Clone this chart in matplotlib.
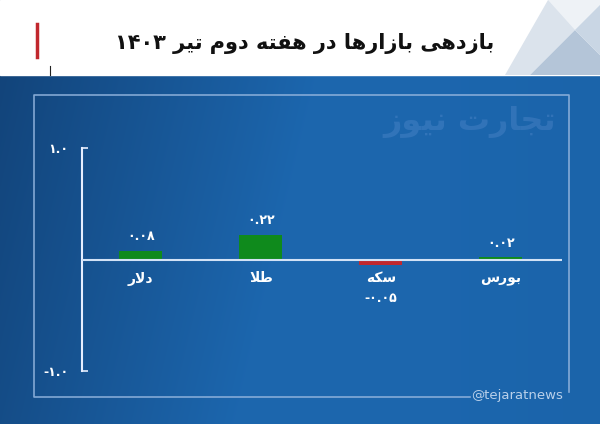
import matplotlib.pyplot as plt
import numpy as np
from matplotlib.patches import Polygon

title = "بازدهی بازارها در هفته دوم تیر ۱۴۰۳"
categories = ["دلار", "طلا", "سکه", "بورس"]
values = [0.08, 0.22, -0.05, 0.02]
yticks = [-1.0, 1.0]
watermark = "تجارت نیوز"
handle = "@tejaratnews"

# contextual forms: (isolated, final, initial, medial)
FORMS = {
    'ا': ('\uFE8D', '\uFE8E'),
    'ب': ('\uFE8F', '\uFE90', '\uFE91', '\uFE92'),
    'ت': ('\uFE95', '\uFE96', '\uFE97', '\uFE98'),
    'ج': ('\uFE9D', '\uFE9E', '\uFE9F', '\uFEA0'),
    'د': ('\uFEA9', '\uFEAA'),
    'ر': ('\uFEAD', '\uFEAE'),
    'ز': ('\uFEAF', '\uFEB0'),
    'س': ('\uFEB1', '\uFEB2', '\uFEB3', '\uFEB4'),
    'ط': ('\uFEC1', '\uFEC2', '\uFEC3', '\uFEC4'),
    'ف': ('\uFED1', '\uFED2', '\uFED3', '\uFED4'),
    'ل': ('\uFEDD', '\uFEDE', '\uFEDF', '\uFEE0'),
    'م': ('\uFEE1', '\uFEE2', '\uFEE3', '\uFEE4'),
    'ن': ('\uFEE5', '\uFEE6', '\uFEE7', '\uFEE8'),
    'ه': ('\uFEE9', '\uFEEA', '\uFEEB', '\uFEEC'),
    'و': ('\uFEED', '\uFEEE'),
    'ی': ('\uFBFC', '\uFBFD', '\uFBFE', '\uFBFF'),
    'ک': ('\uFB8E', '\uFB8F', '\uFB90', '\uFB91'),
    '\uFEFB': ('\uFEFB', '\uFEFC'),
}
DIGITS = '۰۱۲۳۴۵۶۷۸۹.-'


def dual(c):
    return c in FORMS and len(FORMS[c]) == 4


def shape(word):
    chars = list(word.replace('لا', '\uFEFB'))
    out = []
    for i, c in enumerate(chars):
        if c not in FORMS:
            out.append(c)
            continue
        prev = i > 0 and dual(chars[i - 1])
        nxt = i < len(chars) - 1 and chars[i + 1] in FORMS and dual(c)
        form = 3 if (prev and nxt) else 1 if prev else 2 if nxt else 0
        out.append(FORMS[c][form])
    return ''.join(out)


def rtl(s):
    words = []
    for w in reversed(s.split(' ')):
        if all(c in DIGITS for c in w):
            words.append(w)
        else:
            words.append(shape(w)[::-1])
    return ' '.join(words)


def fa_num(v, fmt):
    return format(v, fmt).translate(str.maketrans('0123456789', '۰۱۲۳۴۵۶۷۸۹'))


plt.rcParams['font.family'] = ['DejaVu Sans']

W, H = 600, 424
fig = plt.figure(figsize=(W / 100, H / 100), dpi=100)

# background
bg = fig.add_axes([0, 0, 1, 1])
bg.set_xlim(0, W)
bg.set_ylim(H, 0)
bg.axis('off')

u = np.linspace(0, 1, W)
v = np.linspace(0, 1, H)
U, V = np.meshgrid(u, v)
t = np.clip(U * 1.8 + V * 0.3, 0, 1)
dark = np.array([0.07, 0.26, 0.47])
mid = np.array([0.11, 0.40, 0.68])
img = dark[None, None, :] * (1 - t[..., None]) + mid[None, None, :] * t[..., None]
right = np.clip((U - 0.75) * 2, 0, 1)[..., None]
img = img * (1 - 0.25 * right) + np.array([0.09, 0.34, 0.58]) * 0.25 * right
bg.imshow(img, extent=[0, W, H, 0], aspect='auto', zorder=0)

bg.add_patch(Polygon([[0, 0], [W, 0], [W, 75], [0, 75]], color='white', zorder=1))
bg.add_patch(Polygon([[505, 75], [548, 0], [600, 0], [600, 5], [575, 30], [530, 75]],
                     color='#dbe3ec', zorder=2, lw=0))
bg.add_patch(Polygon([[548, 0], [600, 0], [600, 5], [575, 30]], color='#eef2f6', zorder=2, lw=0))
bg.add_patch(Polygon([[530, 75], [575, 30], [600, 55], [600, 75]], color='#b4c5d8', zorder=2, lw=0))
bg.add_patch(Polygon([[575, 30], [600, 5], [600, 55]], color='#c9d6e4', zorder=2, lw=0))

bg.plot([37, 37], [24, 57], color='#c1272d', lw=2.5, zorder=3)
bg.plot([50, 50], [66, 75], color='#222222', lw=0.8, zorder=3)
bg.text(494, 43, rtl(title), ha='right', va='center', fontsize=15,
        fontweight='bold', color='#111111', zorder=3)

bg.plot([470, 34, 34, 569, 569], [397, 397, 95, 95, 392], color='#8fb2dc',
        lw=1.2, alpha=0.9, zorder=3)
bg.text(517, 395, handle, ha='center', va='center', fontsize=9.5,
        color='#b9d0ea', zorder=3)
bg.text(470, 122, rtl(watermark), ha='center', va='center', fontsize=23,
        fontweight='bold', color='#5b8fd0', alpha=0.35, zorder=3)

# chart
ax = fig.add_axes([82 / W, (H - 371) / H, 480 / W, 223 / H])
ax.patch.set_alpha(0)
x = np.arange(len(categories))
colors = ['#0f8a1c' if val > 0 else '#c0282f' for val in values]
ax.bar(x, values, width=0.36, color=colors, zorder=2)
ax.axhline(0, color='#d2e2f6', lw=1.5, zorder=3)

for i, (cat, val) in enumerate(zip(categories, values)):
    ax.annotate(rtl(cat), (i, 0), xytext=(0, -19), textcoords='offset pixels',
                ha='center', va='center', fontsize=10, fontweight='bold', color='white')
    if val >= 0:
        ax.annotate(fa_num(val, '.2f'), (i, val), xytext=(0, 14), textcoords='offset pixels',
                    ha='center', va='center', fontsize=9, fontweight='bold', color='white')
    else:
        ax.annotate(fa_num(val, '.2f'), (i, val), xytext=(0, -33), textcoords='offset pixels',
                    ha='center', va='center', fontsize=9, fontweight='bold', color='white')

ax.set_xlim(-0.49, 3.51)
ax.set_ylim(-1, 1)
ax.set_xticks([])
ax.set_yticks(yticks)
ax.set_yticklabels([fa_num(t_, '.1f') for t_ in yticks], fontweight='bold')
ax.tick_params(axis='y', direction='in', length=4, width=1.2, color='#e6eeff',
               labelcolor='white', labelsize=9, pad=10)
for s in ['top', 'right', 'bottom']:
    ax.spines[s].set_visible(False)
ax.spines['left'].set_color('#e6eeff')
ax.spines['left'].set_linewidth(1.5)

fig.savefig('out.png', dpi=100)
